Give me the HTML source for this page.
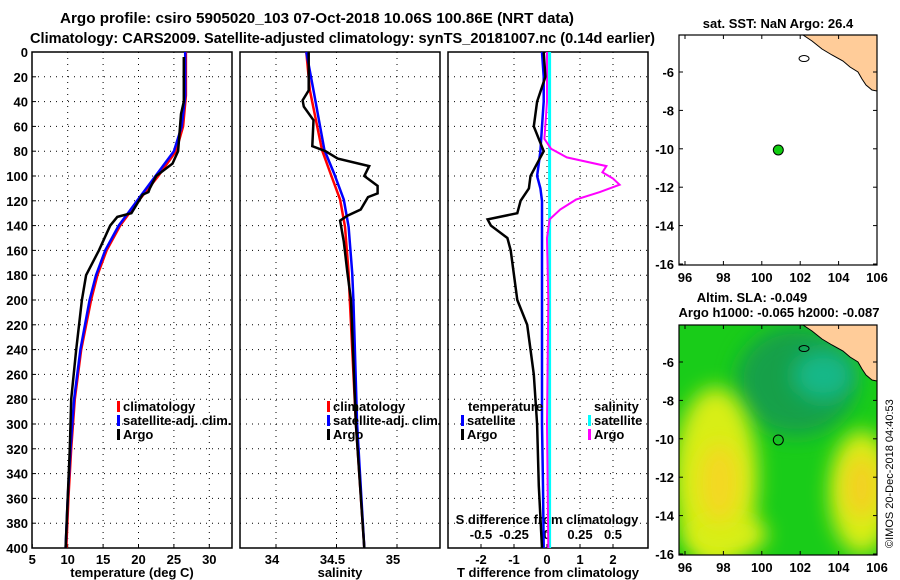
<!DOCTYPE html>
<html><head><meta charset="utf-8">
<style>
html,body{margin:0;padding:0;background:#fff;}
svg{display:block;font-family:"Liberation Sans",Arial,sans-serif;}
.t{font-weight:bold;font-size:14.5px;}
.k{font-weight:bold;font-size:13px;}
</style></head>
<body>
<svg id="c" width="900" height="580" viewBox="0 0 900 580" xmlns="http://www.w3.org/2000/svg">
<defs>
<filter id="bl" x="-50%" y="-50%" width="200%" height="200%"><feGaussianBlur stdDeviation="10"/></filter>
<clipPath id="mc2"><rect x="679" y="325" width="198" height="230"/></clipPath>
<clipPath id="mc1"><rect x="679" y="35" width="198" height="230"/></clipPath>
</defs>
<text class="t" x="60" y="23" textLength="514" lengthAdjust="spacingAndGlyphs">Argo profile: csiro 5905020_103 07-Oct-2018 10.06S 100.86E (NRT data)</text>
<text class="t" x="30" y="43" textLength="625" lengthAdjust="spacingAndGlyphs">Climatology: CARS2009. Satellite-adjusted climatology: synTS_20181007.nc (0.14d earlier)</text>
<g id="g"></g>
<text x="893" y="548" font-size="11" transform="rotate(-90 893 548)">©IMOS 20-Dec-2018 04:40:53</text>
</svg>
<script>
// ---- data ----
const depthT = [0,35,60,80,100,120,140,160,180,200,240,280,320,360,400];
const tempClim = [26.7,26.7,26.3,25.3,22.8,20.0,17.4,15.5,14.2,13.3,11.9,11.0,10.5,10.1,9.8];
const tempSat  = [26.6,26.6,26.1,25.0,22.4,19.8,17.2,15.3,14.0,13.1,11.8,10.9,10.4,10.0,9.7];
const depthTA = [4,40,50,80,90,100,110,113,115,130,133,140,160,180,200,240,280,320,360,400];
const tempArgo = [26.4,26.4,26.0,25.6,24.8,22.5,21.6,21.4,20.6,19.0,17.0,16.0,14.4,12.6,12.0,11.2,10.5,10.3,10.0,9.7];
const depthS = [0,31,79,98,119,141,178,200,300,400];
const salClim = [34.25,34.28,34.38,34.45,34.53,34.57,34.60,34.61,34.66,34.73];
const salSat  = [34.25,34.31,34.40,34.48,34.56,34.60,34.63,34.64,34.67,34.73];
const depthSA = [0,31,39,44,55,76,80,86,92,100,108,114,117,127,132,136,153,178,200,300,400];
const salArgo = [34.27,34.27,34.22,34.23,34.31,34.30,34.41,34.51,34.77,34.73,34.84,34.84,34.76,34.70,34.59,34.53,34.56,34.59,34.62,34.66,34.73];
const depthD = [0,20,40,60,80,90,100,110,120,130,135,140,150,160,180,200,220,240,260,300,350,400];
const dTArgo = [-0.1,-0.05,-0.3,-0.4,-0.1,-0.3,-0.5,-0.55,-0.8,-0.9,-1.8,-1.7,-1.2,-1.1,-1.0,-0.9,-0.6,-0.5,-0.4,-0.3,-0.25,-0.15];
const dTSat  = [-0.15,-0.1,-0.1,-0.15,-0.2,-0.25,-0.3,-0.2,-0.15,-0.15,-0.15,-0.15,-0.15,-0.15,-0.15,-0.15,-0.15,-0.15,-0.15,-0.15,-0.12,-0.1];
const depthSD = [0,40,70,78,85,92,97,102,107,113,119,127,135,150,200,300,400];
const dSArgo = [0,0,-0.02,0.03,0.15,0.45,0.42,0.5,0.55,0.4,0.22,0.1,0.02,0,0.01,0,0.01];
const dSSat  = [0.02,0.02,0.02,0.02,0.02,0.02,0.02,0.02,0.02,0.02,0.02,0.02,0.02,0.02,0.02,0.02,0.02];
const argoLon = 100.86, argoLat = -10.06;

const NS='http://www.w3.org/2000/svg', G=document.getElementById('g');
function mk(tag,a,txt){const e=document.createElementNS(NS,tag);for(const k in a)e.setAttribute(k,a[k]);if(txt!=null)e.textContent=txt;G.appendChild(e);return e;}
const Y0=52,Y1=548, yD=d=>Y0+(Y1-Y0)*d/400;
function panel(x0,name){
  const r=mk('rect',{x:x0,y:Y0,width:200,height:Y1-Y0,fill:'none',stroke:'#000','stroke-width':1.5});
  
}
function hgrid(x0){for(let d=20;d<400;d+=20){const l=mk('line',{x1:x0,x2:x0+200,y1:yD(d),y2:yD(d),stroke:'#000','stroke-dasharray':'1 5'});}}
function vgrid(x,){const l=mk('line',{x1:x,x2:x,y1:Y0,y2:Y1,stroke:'#000','stroke-dasharray':'1 5'});}
function line(xs,ds,fx,col,name,w){const p=xs.map((v,i)=>fx(v).toFixed(1)+','+yD(ds[i]).toFixed(1)).join(' ');const e=mk('polyline',{points:p,fill:'none',stroke:col,'stroke-width':w||2.5});}
function txt(x,y,s,anchor,name,cls){const e=mk('text',{x:x,y:y,'text-anchor':anchor||'start',class:cls||'k'},s);return e;}
function tick(x1,y1,x2,y2){const e=mk('line',{x1,y1,x2,y2,stroke:'#000','stroke-width':1});}
function legend(x,y,col,s,name){const e=mk('rect',{x:x,y:y-10,width:3,height:11,fill:col});txt(x+6,y,s,'start',name);}

for(let d=0;d<=400;d+=20){txt(28,yD(d)+5,String(d),'end','depth-tick-label');tick(32,yD(d),36,yD(d));}

// Panel 1: temperature
const xT=v=>32.3+(v-5)*7.08;
panel(32,'temperature-panel');hgrid(32);
[10,15,20,25,30].forEach(v=>vgrid(xT(v)));
[5,10,15,20,25,30].forEach(v=>{txt(xT(v),564,String(v),'middle','temperature-tick-label');tick(xT(v),Y1,xT(v),Y1-4);});
txt(132,577,'temperature (deg C)','middle','temperature-axis-title');
line(tempClim,depthT,xT,'#f00','temperature-climatology-line');
line(tempSat,depthT,xT,'#00f','temperature-satellite-line');
line(tempArgo,depthTA,xT,'#000','temperature-argo-line');
legend(117,411,'#f00','climatology','legend-climatology');
legend(117,425,'#00f','satellite-adj. clim.','legend-satellite');
legend(117,439,'#000','Argo','legend-argo');

// Panel 2: salinity
const xS=v=>276+(v-34)*121;
panel(240,'salinity-panel');hgrid(240);
[34,34.5,35].forEach(v=>vgrid(xS(v)));
[34,34.5,35].forEach(v=>{txt(xS(v)-4,564,String(v),'middle','salinity-tick-label');tick(xS(v),Y1,xS(v),Y1-4);});
txt(340,577,'salinity','middle','salinity-axis-title');
line(salClim,depthS,xS,'#f00','salinity-climatology-line');
line(salSat,depthS,xS,'#00f','salinity-satellite-line');
line(salArgo,depthSA,xS,'#000','salinity-argo-line');
legend(327,411,'#f00','climatology','legend-climatology-2');
legend(327,425,'#00f','satellite-adj. clim.','legend-satellite-2');
legend(327,439,'#000','Argo','legend-argo-2');

// Panel 3: differences
const xD=v=>547+v*33, xSD=v=>547+v*132;
panel(448,'difference-panel');hgrid(448);
[-2,-1,0,1,2].forEach(v=>vgrid(xD(v)));
[-2,-1,0,1,2].forEach(v=>{txt(xD(v),564,String(v),'middle','t-diff-tick-label');tick(xD(v),Y1,xD(v),Y1-4);});
txt(548,577,'T difference from climatology','middle','t-diff-axis-title');
txt(547,524,'S difference from climatology','middle','s-diff-axis-title');
[['-0.5',-0.5],['-0.25',-0.25],['0',0],['0.25',0.25],['0.5',0.5]].forEach(a=>txt(xSD(a[1]),539,a[0],'middle','s-diff-tick-label'));
line(dSSat,depthSD,xSD,'#0ff','salinity-satellite-diff-line',3);
line(dSArgo,depthSD,xSD,'#f0f','salinity-argo-diff-line',2);
line(dTSat,depthD,xD,'#00f','temperature-satellite-diff-line',2.5);
line(dTArgo,depthD,xD,'#000','temperature-argo-diff-line',2.5);
txt(468,411,'temperature','start','legend-temperature-heading');
legend(461,425,'#00f','satellite','legend-t-satellite');
legend(461,439,'#000','Argo','legend-t-argo');
txt(594,411,'salinity','start','legend-salinity-heading');
legend(588,425,'#0ff','satellite','legend-s-satellite');
legend(588,439,'#f0f','Argo','legend-s-argo');

// Maps
const mx=lon=>685+(lon-96)*19.2;
function map(top,lat6,name,bg){
  const my=lat=>lat6+(-6-lat)*19.2;
  const g=document.createElementNS(NS,'g');G.appendChild(g);
  g.setAttribute('clip-path','url(#mc'+(top<100?1:2)+')');
  
  const add=(tag,a)=>{const e=document.createElementNS(NS,tag);for(const k in a)e.setAttribute(k,a[k]);g.appendChild(e);return e;};
  add('rect',{x:679,y:top,width:198,height:230,fill:bg});
  if(bg!=='#fff'){
    add('ellipse',{cx:mx(101.8),cy:my(-7),rx:60,ry:55,fill:'#17a048',filter:'url(#bl)'});
    add('ellipse',{cx:mx(103.2),cy:my(-6.7),rx:30,ry:25,fill:'#16b888',filter:'url(#bl)'});
    add('ellipse',{cx:mx(97.6),cy:my(-12),rx:42,ry:90,fill:'#d8ee18',filter:'url(#bl)'});
    add('ellipse',{cx:mx(98.2),cy:my(-15),rx:40,ry:20,fill:'#d8ee18',filter:'url(#bl)'});
    add('ellipse',{cx:mx(97.8),cy:my(-12.3),rx:20,ry:40,fill:'#f4d820',filter:'url(#bl)'});
    add('ellipse',{cx:mx(105.2),cy:my(-12.8),rx:32,ry:62,fill:'#d8ee18',filter:'url(#bl)'});
    add('ellipse',{cx:mx(105.2),cy:my(-12.5),rx:17,ry:32,fill:'#f4d020',filter:'url(#bl)'});
  }
  const land=add('polygon',{points:[[803,top],[812,top+6],[822,top+14],[832,top+20],[843,top+26],[850,top+32],[858,top+37],[862,top+44],[866,top+50],[872,top+55],[877,top+56],[877,top]].map(p=>p.join(',')).join(' '),fill:'#ffcc99',stroke:'#000','stroke-width':1});
  
  add('ellipse',{cx:mx(102.2),cy:my(-5.3),rx:5,ry:3,fill:'none',stroke:'#000'});
  const fr=mk('rect',{x:679,y:top,width:198,height:230,fill:'none',stroke:'#000','stroke-width':1.2});
  
  [96,98,100,102,104,106].forEach(v=>{txt(mx(v),top+230+17,String(v),'middle',name+'-lon-label');tick(mx(v),top,mx(v),top+4);tick(mx(v),top+230,mx(v),top+226);});
  [-6,-8,-10,-12,-14,-16].forEach(v=>{txt(674,my(v)+5,String(v),'end',name+'-lat-label');tick(679,my(v),683,my(v));tick(877,my(v),873,my(v));});
  return my;
}
const my1=map(35,72,'sst-map','#fff');
const m1=mk('circle',{cx:mx(argoLon),cy:my1(argoLat),r:5,fill:'#1c1',stroke:'#000'});

txt(778,28,'sat. SST: NaN Argo: 26.4','middle','sst-map-title');
const my2=map(325,362,'sla-map','#19cc19');
const m2=mk('circle',{cx:mx(argoLon),cy:my2(argoLat),r:5,fill:'none',stroke:'#000'});

txt(752,302,'Altim. SLA: -0.049','middle','sla-map-title');
txt(779,317,'Argo h1000: -0.065 h2000: -0.087','middle','sla-map-subtitle');
</script>
</body></html>
